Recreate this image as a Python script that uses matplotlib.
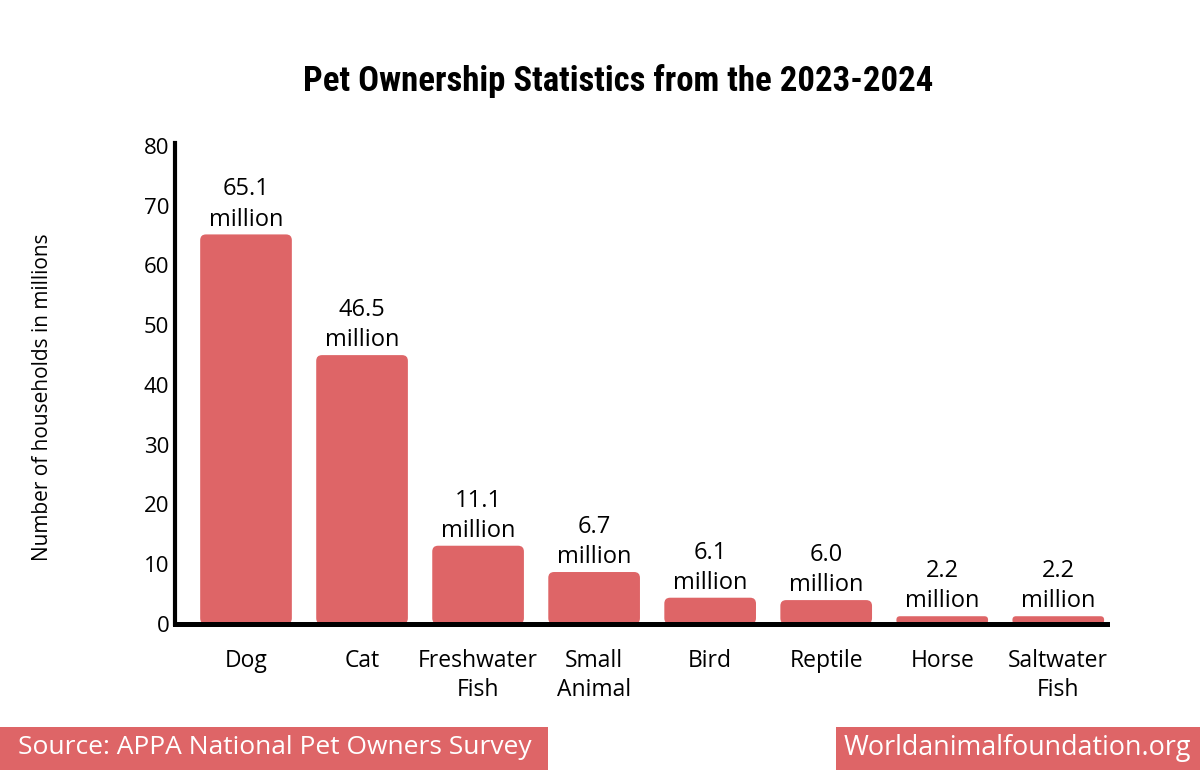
import matplotlib
matplotlib.use("Agg")
import matplotlib.pyplot as plt
from matplotlib import font_manager
from matplotlib.patches import FancyBboxPatch, Rectangle

# data
categories = ["Dog", "Cat", "Freshwater\nFish", "Small\nAnimal", "Bird", "Reptile", "Horse", "Saltwater\nFish"]
values = [65.1, 46.5, 11.1, 6.7, 6.1, 6.0, 2.2, 2.2]          # label values (millions)
bar_heights = [65.2, 45.0, 13.1, 8.7, 4.4, 4.0, 1.3, 1.3]     # heights as drawn in the image
yticks = [0, 10, 20, 30, 40, 50, 60, 70, 80]

RED = "#DE6567"
BODY = ["Open Sans", "DejaVu Sans"]

installed = {f.name for f in font_manager.fontManager.ttflist}
narrow = [n for n in ["Roboto Condensed", "Liberation Sans Narrow", "DejaVu Sans Condensed"] if n in installed]
TITLE = narrow[:1] + ["Roboto", "DejaVu Sans"]

plt.rcParams["font.family"] = BODY

fig = plt.figure(figsize=(12, 7.7), dpi=100)
W, H = 1200, 770
ax = fig.add_axes([175 / W, 1 - 624 / H, (1107 - 175) / W, (624 - 143) / H])

xlo, xhi = -0.612, 7.42
ylo, yhi = 0, 80.5
ax.set_xlim(xlo, xhi)
ax.set_ylim(ylo, yhi)

# pixels per data unit -> aspect for rounded corners
px_x = (1107 - 175) / (xhi - xlo)
px_y = (624 - 143) / (yhi - ylo)
aspect = px_x / px_y
bw = 0.79
for i, h in enumerate(bar_heights):
    rs = min(0.05, h / aspect / 2.2)
    p = FancyBboxPatch((i - bw / 2, 0), bw, h,
                       boxstyle=f"round,pad=0,rounding_size={rs}",
                       mutation_aspect=aspect, fc=RED, ec="none", zorder=2)
    ax.add_patch(p)
    ax.annotate(f"{values[i]:.1f}\nmillion", (i, h), xytext=(0, 2), textcoords="offset points",
                ha="center", va="bottom", fontsize=17, linespacing=1.35, color="black")

for s in ["top", "right"]:
    ax.spines[s].set_visible(False)
ax.spines["left"].set_linewidth(3)
ax.spines["bottom"].set_linewidth(3.6)
ax.spines["left"].set_zorder(3)
ax.spines["bottom"].set_zorder(3)

ax.set_yticks(yticks)
ax.set_yticklabels([str(t) for t in yticks], fontsize=16)
ax.set_xticks(range(len(categories)))
ax.set_xticklabels(categories, fontsize=16.5, linespacing=1.25, va="top")
ax.tick_params(axis="y", length=0, pad=4)
ax.tick_params(axis="x", length=0, pad=18)

fig.text(42 / W, 1 - 397 / H, "Number of households in millions", rotation=90,
         ha="center", va="center", fontsize=15)

fig.text(618 / W, 1 - 81 / H, "Pet Ownership Statistics from the 2023-2024",
         ha="center", va="center", fontsize=25, fontweight="bold", family=TITLE)

# footer boxes
fig.patches.append(Rectangle((0, 0), 548 / W, 43 / H, transform=fig.transFigure,
                             fc=RED, ec="none"))
fig.patches.append(Rectangle((836 / W, 0), (1200 - 836) / W, 43 / H, transform=fig.transFigure,
                             fc=RED, ec="none"))
fig.text(275 / W, 1 - 748 / H, "Source: APPA National Pet Owners Survey",
         ha="center", va="center", fontsize=19, color="white")
fig.text(1017 / W, 1 - 748 / H, "Worldanimalfoundation.org",
         ha="center", va="center", fontsize=19.4, color="white")

fig.savefig("out.png", dpi=100)
